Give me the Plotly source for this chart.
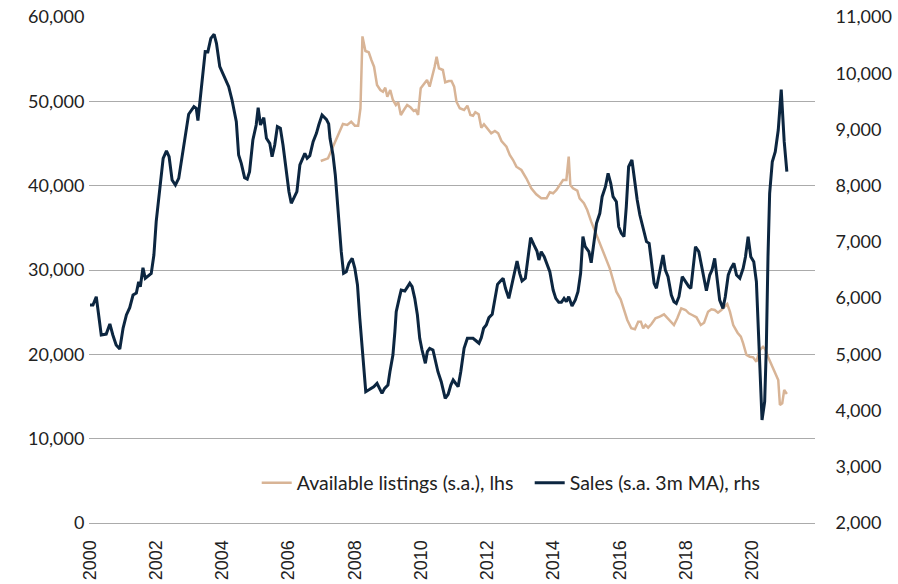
import plotly.graph_objects as go

# Sales (s.a. 3m MA), rhs  -- decimal year, value
sales_t = [2000.00, 2000.09, 2000.19, 2000.34, 2000.49, 2000.60, 2000.69, 2000.79, 2000.90, 2001.00,
           2001.10, 2001.20, 2001.30, 2001.40, 2001.47, 2001.52, 2001.60, 2001.67, 2001.85, 2001.93,
           2002.00, 2002.11, 2002.21, 2002.31, 2002.39, 2002.48, 2002.58, 2002.68, 2002.81, 2002.98,
           2003.14, 2003.21, 2003.26, 2003.36, 2003.48, 2003.56, 2003.65, 2003.75, 2003.82, 2003.92,
           2004.07, 2004.19, 2004.29, 2004.42, 2004.49, 2004.57, 2004.67, 2004.75, 2004.82, 2004.92,
           2005.02, 2005.08, 2005.15, 2005.25, 2005.33, 2005.43, 2005.50, 2005.58, 2005.66, 2005.75,
           2005.83, 2005.93, 2006.01, 2006.08, 2006.16, 2006.25, 2006.34, 2006.40, 2006.49, 2006.56,
           2006.64, 2006.74, 2006.84, 2006.91, 2007.01, 2007.14, 2007.21, 2007.25, 2007.34, 2007.41,
           2007.49, 2007.59, 2007.66, 2007.74, 2007.82, 2007.92, 2008.00, 2008.08, 2008.15, 2008.23,
           2008.33, 2008.45, 2008.57, 2008.67, 2008.75, 2008.82, 2008.90, 2009.00, 2009.06, 2009.15,
           2009.21, 2009.25, 2009.34, 2009.40, 2009.51, 2009.59, 2009.66, 2009.73, 2009.81, 2009.89,
           2009.96, 2010.03, 2010.13, 2010.19, 2010.26, 2010.36, 2010.43, 2010.51, 2010.61, 2010.66,
           2010.73, 2010.82, 2010.90, 2010.97, 2011.04, 2011.12, 2011.20, 2011.30, 2011.40, 2011.57,
           2011.67, 2011.75, 2011.82, 2011.89, 2011.97, 2012.05, 2012.15, 2012.23, 2012.31, 2012.40,
           2012.48, 2012.55, 2012.65, 2012.73, 2012.80, 2012.90, 2012.98, 2013.05, 2013.15, 2013.23,
           2013.31, 2013.41, 2013.50, 2013.56, 2013.63, 2013.72, 2013.80, 2013.89, 2013.99, 2014.07,
           2014.16, 2014.24, 2014.32, 2014.39, 2014.46, 2014.56, 2014.66, 2014.74, 2014.82, 2014.89,
           2014.96, 2015.07, 2015.14, 2015.23, 2015.30, 2015.40, 2015.47, 2015.57, 2015.65, 2015.73,
           2015.80, 2015.90, 2015.97, 2016.05, 2016.13, 2016.20, 2016.27, 2016.37, 2016.46, 2016.53,
           2016.61, 2016.71, 2016.81, 2016.89, 2016.96, 2017.04, 2017.11, 2017.21, 2017.31, 2017.38,
           2017.46, 2017.56, 2017.64, 2017.71, 2017.79, 2017.89, 2017.99, 2018.09, 2018.15, 2018.29,
           2018.39, 2018.49, 2018.62, 2018.72, 2018.79, 2018.87, 2018.95, 2019.02, 2019.12, 2019.19,
           2019.28, 2019.36, 2019.45, 2019.53, 2019.63, 2019.73, 2019.80, 2019.88, 2019.96, 2020.05,
           2020.13, 2020.20, 2020.26, 2020.30, 2020.38, 2020.43, 2020.48, 2020.53, 2020.61, 2020.70,
           2020.79, 2020.88, 2020.97, 2021.05]
sales_v = [5877, 5877, 6025, 5344, 5360, 5540, 5344, 5166, 5095, 5468,
           5700, 5830, 6055, 6090, 6292, 6203, 6540, 6352, 6440, 6767,
           7359, 7953, 8487, 8617, 8515, 8100, 8012, 8130, 8604, 9270,
           9405, 9376, 9156, 9732, 10383, 10380, 10621, 10692, 10532, 10116,
           9910, 9760, 9524, 9138, 8545, 8398, 8142, 8118, 8248, 8812,
           9079, 9387, 9079, 9209, 8842, 8753, 8515, 8723, 9049, 9020,
           8723, 8248, 7893, 7686, 7775, 7893, 8368, 8456, 8575, 8487,
           8533, 8782, 8931, 9079, 9257, 9180, 9100, 8842, 8545, 8190,
           7537, 6826, 6441, 6470, 6619, 6708, 6530, 6233, 5640, 4988,
           4335, 4378, 4424, 4484, 4395, 4306, 4395, 4454, 4691, 4988,
           5403, 5758, 5996, 6144, 6126, 6203, 6263, 6203, 5996, 5700,
           5285, 5077, 4840, 5047, 5107, 5077, 4899, 4691, 4513, 4395,
           4217, 4290, 4454, 4543, 4484, 4424, 4691, 5107, 5285, 5285,
           5237, 5196, 5296, 5463, 5522, 5652, 5712, 5996, 6245, 6304,
           6352, 6174, 5996, 6203, 6381, 6660, 6441, 6304, 6352, 6767,
           7075, 6945, 6838, 6678, 6826, 6737, 6619, 6470, 6144, 5996,
           5925, 5925, 5996, 5936, 6025, 5860, 5966, 6114, 6441, 7093,
           6914, 6826, 6630, 7034, 7330, 7508, 7804, 7982, 8220, 8042,
           7804, 7715, 7270, 7152, 7093, 7626, 8337, 8456, 8042, 7745,
           7478, 7241, 7004, 6975, 6619, 6263, 6174, 6500, 6767, 6500,
           6381, 6055, 5936, 5907, 6025, 6381, 6292, 6203, 6174, 6914,
           6826, 6530, 6132, 6411, 6500, 6708, 6322, 5966, 5818, 6025,
           6411, 6530, 6619, 6411, 6352, 6530, 6737, 7093, 6737, 6648,
           6292, 5374, 4365, 3832, 4157, 5135, 6737, 7864, 8426, 8604,
           8990, 9710, 8782, 8248]

# Available listings (s.a.), lhs
list_t = [2006.97, 2007.09, 2007.19, 2007.34, 2007.49, 2007.64, 2007.77, 2007.89, 2008.00, 2008.10,
          2008.17, 2008.23, 2008.32, 2008.42, 2008.50, 2008.58, 2008.67, 2008.77, 2008.85, 2008.92,
          2008.98, 2009.07, 2009.15, 2009.24, 2009.31, 2009.39, 2009.48, 2009.58, 2009.68, 2009.78,
          2009.84, 2009.91, 2009.99, 2010.11, 2010.18, 2010.26, 2010.36, 2010.41, 2010.47, 2010.54,
          2010.66, 2010.73, 2010.84, 2010.92, 2011.00, 2011.07, 2011.17, 2011.30, 2011.40, 2011.49,
          2011.57, 2011.64, 2011.74, 2011.82, 2011.90, 2012.00, 2012.12, 2012.23, 2012.33, 2012.43,
          2012.58, 2012.68, 2012.78, 2012.88, 2013.03, 2013.18, 2013.33, 2013.48, 2013.63, 2013.79,
          2013.89, 2013.99, 2014.09, 2014.19, 2014.29, 2014.39, 2014.46, 2014.51, 2014.59, 2014.72,
          2014.79, 2014.92, 2015.02, 2015.14, 2015.30, 2015.43, 2015.57, 2015.70, 2015.80, 2015.90,
          2016.03, 2016.13, 2016.23, 2016.35, 2016.46, 2016.56, 2016.64, 2016.71, 2016.78, 2016.86,
          2016.96, 2017.08, 2017.21, 2017.34, 2017.41, 2017.51, 2017.64, 2017.74, 2017.86, 2017.99,
          2018.09, 2018.19, 2018.32, 2018.45, 2018.55, 2018.67, 2018.77, 2018.87, 2018.97, 2019.07,
          2019.18, 2019.25, 2019.33, 2019.43, 2019.56, 2019.66, 2019.73, 2019.83, 2019.93, 2020.03,
          2020.13, 2020.23, 2020.33, 2020.40, 2020.48, 2020.58, 2020.70, 2020.79, 2020.84, 2020.91,
          2020.97, 2021.05]
list_v = [42926, 43125, 43245, 44621, 46009, 47313, 47195, 47589, 47112, 47112,
          49176, 57700, 55970, 55818, 54903, 54108, 51938, 51345, 51143, 51618,
          50551, 51345, 50159, 49566, 49886, 48381, 48973, 49566, 49293, 48855,
          48973, 48381, 51545, 52141, 52532, 51743, 53124, 54108, 55294, 53920,
          53718, 52260, 52412, 52412, 51743, 49958, 49176, 48973, 49485, 48381,
          48296, 48700, 48463, 46878, 47281, 46806, 46206, 46484, 46206, 45298,
          44621, 43637, 43044, 42252, 41859, 40876, 39690, 38978, 38504, 38504,
          39215, 39097, 39488, 40081, 40673, 40673, 43436, 40081, 39690, 39404,
          38504, 37910, 37116, 35728, 34151, 32764, 31270, 30201, 28815, 27428,
          26526, 25258, 24072, 23088, 22969, 23870, 23870, 23088, 23479, 23159,
          23597, 24273, 24463, 24747, 24463, 24072, 23479, 24273, 25459, 25258,
          24866, 24664, 24391, 23479, 23751, 25056, 25341, 25258, 24937, 25258,
          25732, 25969, 25056, 23479, 22566, 22091, 21309, 19921, 19720, 19649,
          19127, 20514, 20905, 20597, 19720, 18735, 17751, 16956, 13992, 14194,
          15771, 15297]

year_ticks = list(range(2000, 2021, 2))
left_ticks = list(range(0, 60001, 10000))
right_ticks = list(range(2000, 11001, 1000))

LIST_COLOR = "#D8B496"
SALES_COLOR = "#0C2640"
GRID_COLOR = "#ABABAB"

fig = go.Figure()
fig.add_trace(go.Scatter(x=list_t, y=list_v, mode="lines", name="Available listings (s.a.), lhs",
                         line=dict(color=LIST_COLOR, width=2.5), yaxis="y"))
fig.add_trace(go.Scatter(x=sales_t, y=sales_v, mode="lines", name="Sales (s.a. 3m MA), rhs",
                         line=dict(color=SALES_COLOR, width=3), yaxis="y2"))

fig.update_layout(
    width=898, height=584,
    margin=dict(l=89, r=83, t=17, b=61),
    paper_bgcolor="white", plot_bgcolor="white",
    font=dict(family="Lato", size=18, color="#222222"),
    showlegend=True,
    legend=dict(orientation="h", x=0.231, y=0.079, xanchor="left", yanchor="middle",
                font=dict(family="Lato", size=19.5, color="#222222"),
                bgcolor="rgba(0,0,0,0)", itemwidth=30,
                entrywidth=228, entrywidthmode="pixels"),
    xaxis=dict(range=[1999.97, 2021.90], tickmode="array", tickvals=year_ticks,
               ticktext=[str(y) for y in year_ticks], tickangle=-90,
               tickfont=dict(family="Liberation Sans", size=18, color="#222222"),
               showgrid=False, zeroline=False, showline=False, ticks="outside", ticklen=9,
               tickcolor="rgba(0,0,0,0)", automargin=False),
    yaxis=dict(range=[0, 60000], tickmode="array", tickvals=left_ticks,
               ticktext=[f"{v:,}" for v in left_ticks],
               showgrid=True, gridcolor=GRID_COLOR, gridwidth=1,
               zeroline=True, zerolinecolor=GRID_COLOR, zerolinewidth=1, showline=False,
               ticks="outside", ticklen=0, tickcolor="rgba(0,0,0,0)", automargin=False),
    yaxis2=dict(range=[2000, 11000], tickmode="array", tickvals=right_ticks,
                ticktext=[f"{v:,}" for v in right_ticks], overlaying="y", side="right",
                showgrid=False, zeroline=False, showline=False,
                ticks="outside", ticklen=16, tickcolor="rgba(0,0,0,0)", automargin=False),
)

fig.write_html("out.html", config={"displayModeBar": False},
               post_script="document.body.style.margin='0';")
